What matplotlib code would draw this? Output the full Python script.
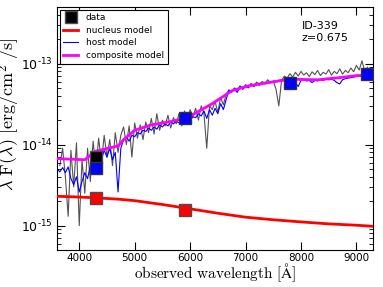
import numpy as np
import matplotlib
matplotlib.use("Agg")
import matplotlib.pyplot as plt
from matplotlib.ticker import FuncFormatter

# observed spectrum (gray), units of 1e-15 erg/cm2/s, 50 A steps from 3650
spec_start = 3650
spec_flux = [5.5, 9.0, 4.0, 1.3, 8.5, 3.0, 10.5, 1.0, 6.5, 2.5,
             9.0, 3.5, 11.0, 5.0, 12.0, 6.0, 13.0, 7.0, 11.5, 5.5,
             14.0, 8.0, 13.0, 16.5, 10.0, 17.0, 7.0, 18.5, 12.0, 17.5,
             11.5, 19.0, 14.0, 21.0, 13.5, 24.0, 15.0, 20.0, 17.0, 23.0,
             16.0, 21.5, 18.0, 24.0, 17.0, 26.0, 19.0, 27.0, 22.0, 28.0,
             20.0, 30.0, 24.0, 9.0, 30.0, 27.0, 34.0, 25.0, 38.0, 31.0,
             42.0, 47.0, 44.0, 50.0, 47.0, 53.0, 49.0, 55.0, 51.0, 57.0,
             53.0, 59.0, 55.0, 60.0, 57.0, 63.0, 58.0, 61.0, 48.0, 30.0,
             62.0, 70.0, 66.0, 75.0, 68.0, 78.0, 70.0, 80.0, 72.0, 77.0,
             69.0, 79.0, 73.0, 82.0, 71.0, 78.0, 74.0, 84.0, 72.0, 80.0,
             75.0, 86.0, 74.0, 82.0, 77.0, 88.0, 79.0, 95.0, 83.0, 108.0,
             80.0, 90.0]

# host model (blue), 50 A steps from 3600
host_start = 3600
host_flux = [5.0, 4.6, 5.2, 4.5, 5.3, 3.8, 3.2, 4.0, 2.6, 3.5,
             4.5, 3.8, 5.5, 6.2, 5.8, 7.0, 6.5, 8.5, 7.0, 9.0,
             6.5, 8.0, 2.6, 9.0, 11.5, 12.5, 11.0, 13.0, 12.5, 14.0,
             13.5, 15.0, 14.5, 16.0, 15.0, 16.5, 15.5, 17.5, 16.5, 18.0,
             17.0, 19.0, 18.0, 19.5, 18.5, 20.5, 19.5, 21.0, 20.0, 22.0,
             21.5, 24.0, 22.5, 26.0, 21.0, 27.0, 23.0, 28.0, 24.0, 32.0,
             27.0, 36.0, 47.0, 45.0, 49.0, 44.0, 52.0, 48.0, 53.0, 50.0,
             55.0, 52.0, 56.0, 54.0, 58.0, 56.0, 59.0, 58.0, 60.0, 61.0,
             62.0, 63.0, 64.0, 64.0, 62.0, 63.0, 58.0, 52.0, 62.0, 63.0,
             61.0, 62.0, 58.0, 62.0, 61.0, 63.0, 62.0, 64.0, 63.0, 64.0,
             62.0, 58.0, 56.0, 63.0, 65.0, 66.0, 67.0, 68.0, 69.0, 70.0,
             71.0, 71.0, 72.0, 72.0, 72.0]

# composite model
comp_wl = [3600, 4100, 4300, 4700, 4800, 5000, 5300, 5650, 5950, 6400,
           6750, 7050, 7400, 7800, 8300, 8700, 9000, 9300]
comp_flux = [6.7, 6.5, 8.3, 9.6, 11.5, 15.0, 17.5, 19.2, 21.5, 32.0,
             46.0, 53.0, 58.0, 64.0, 63.0, 67.0, 71.0, 72.0]

# nucleus model
nuc_wl = [3600, 4000, 4300, 4700, 5000, 5500, 5900, 6500, 7000, 7500,
          8000, 8500, 9000, 9300]
nuc_flux = [2.3, 2.25, 2.2, 2.12, 2.03, 1.82, 1.65, 1.42, 1.27, 1.18,
            1.11, 1.05, 1.01, 0.98]

# photometry
data_wl = [4300]
data_flux = [7.1]
host_phot_wl = [4300, 5900, 7800, 9200]
host_phot_flux = [5.2, 21.5, 58.0, 75.0]
nuc_phot_wl = [4300, 5900]
nuc_phot_flux = [2.2, 1.57]

scale = 1e-15
spec_wl = np.arange(len(spec_flux)) * 50 + spec_start
host_wl = np.arange(len(host_flux)) * 50 + host_start

plt.rcParams['mathtext.fontset'] = 'dejavusans'
plt.rcParams['font.size'] = 7.5

fig = plt.figure(figsize=(3.83, 2.87), dpi=100)
ax = fig.add_axes([0.149, 0.129, 0.825, 0.847])

ax.plot(spec_wl, np.array(spec_flux) * scale, color='0.32', lw=0.8, zorder=1)
ax.plot(host_wl, np.array(host_flux) * scale, color='blue', lw=0.8,
        label='host model', zorder=2)
ax.plot(comp_wl, np.array(comp_flux) * scale, color='magenta', lw=2,
        label='composite model', zorder=3)
ax.plot(nuc_wl, np.array(nuc_flux) * scale, color='red', lw=2,
        label='nucleus model', zorder=3)

ax.plot(data_wl, np.array(data_flux) * scale, 's', color='black', ms=8,
        mec='0.3', label='data', zorder=5)
ax.plot(host_phot_wl, np.array(host_phot_flux) * scale, 's', color='blue',
        ms=8, mec='0.2', zorder=5)
ax.plot(nuc_phot_wl, np.array(nuc_phot_flux) * scale, 's', color='red',
        ms=8, mec='0.3', zorder=5)

ax.set_yscale('log')
ax.set_xlim(3600, 9300)
ax.set_ylim(5e-16, 5e-13)
ax.set_xticks([4000, 5000, 6000, 7000, 8000, 9000])
ax.yaxis.set_major_formatter(
    FuncFormatter(lambda v, p: r'$10^{\text{-}%d}$' % round(-np.log10(v))))

ax.tick_params(which='both', direction='in', top=True, right=True)
ax.tick_params(axis='x', labelsize=7.5, pad=2)
ax.tick_params(axis='y', labelsize=9, pad=3)
ax.tick_params(which='major', length=6)
ax.tick_params(which='minor', length=3)

ax.set_xlabel(r'$\mathrm{observed\ wavelength\ [\AA]}$', fontsize=11,
              math_fontfamily='cm', labelpad=-1)
ax.set_ylabel(r'$\lambda\ \mathrm{F}(\lambda)\ [\mathrm{erg/cm}^2\ \mathrm{/s}]$',
              fontsize=13, math_fontfamily='cm')
ax.yaxis.set_label_coords(-0.112, 0.556)

h, l = ax.get_legend_handles_labels()
order = [l.index(k) for k in ['data', 'nucleus model', 'host model', 'composite model']]
leg = ax.legend([h[i] for i in order], [l[i] for i in order], loc='upper left',
                fontsize=6.5, numpoints=1, fancybox=False, framealpha=1,
                edgecolor='black', borderaxespad=0.3, handlelength=1.6,
                labelspacing=0.4, handletextpad=0.9)
leg.get_frame().set_linewidth(0.8)

ax.text(0.775, 0.94, 'ID-339\nz=0.675', transform=ax.transAxes, fontsize=8,
        va='top', ha='left', linespacing=1.2)

fig.savefig('out.png', dpi=100)
